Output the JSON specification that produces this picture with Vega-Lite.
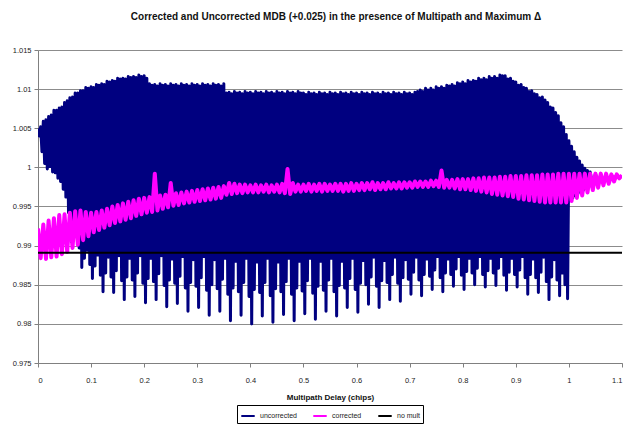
{
"$schema": "https://vega.github.io/schema/vega-lite/v6.json",
"width": 584,
"height": 313,
"autosize": {"type": "none"},
"padding": {"left": 38, "top": 50, "right": 4, "bottom": 63},
"background": "white",
"config": {"font": "Liberation Sans", "view": {"stroke": null}},
"title": {"text": "Corrected and Uncorrected MDB (+0.025) in the presence of Multipath and Maximum Δ", "fontSize": 10, "fontWeight": "bold", "offset": 24, "anchor": "middle", "dx": 6, "color": "#111"},
"datasets": {
"u": [
{"x":0,"y":1.0050},{"x":0.0025,"y":1.0040},{"x":0.005,"y":1.0052},{"x":0.0075,"y":1.0020},{"x":0.01,"y":1.0059},{"x":0.0125,"y":1.0005},{"x":0.015,"y":1.0061},{"x":0.0175,"y":0.9998},{"x":0.02,"y":1.0065},{"x":0.0225,"y":1.0001},{"x":0.025,"y":1.0067},{"x":0.0275,"y":0.9994},{"x":0.03,"y":1.0073},{"x":0.0325,"y":0.9993},{"x":0.035,"y":1.0073},{"x":0.0375,"y":0.9986},{"x":0.04,"y":1.0076},{"x":0.0425,"y":0.9982},{"x":0.045,"y":1.0077},{"x":0.0475,"y":0.9972},{"x":0.05,"y":1.0083},{"x":0.0525,"y":0.9962},{"x":0.055,"y":1.0085},{"x":0.0575,"y":0.9942},{"x":0.06,"y":1.0089},{"x":0.0625,"y":0.9905},{"x":0.065,"y":1.0090},{"x":0.0675,"y":0.9912},{"x":0.07,"y":1.0095},{"x":0.0725,"y":0.9918},{"x":0.075,"y":1.0095},{"x":0.0775,"y":0.9897},{"x":0.08,"y":1.0098},{"x":0.0825,"y":0.9872},{"x":0.085,"y":1.0098},{"x":0.0875,"y":0.9884},{"x":0.09,"y":1.0102},{"x":0.0925,"y":0.9894},{"x":0.095,"y":1.0101},{"x":0.0975,"y":0.9876},
{"x":0.1,"y":1.0103},{"x":0.1025,"y":0.9858},{"x":0.105,"y":1.0102},{"x":0.1075,"y":0.9874},{"x":0.11,"y":1.0106},{"x":0.1125,"y":0.9888},{"x":0.115,"y":1.0105},{"x":0.1175,"y":0.9862},{"x":0.12,"y":1.0107},{"x":0.1225,"y":0.9841},{"x":0.125,"y":1.0106},{"x":0.1275,"y":0.9865},{"x":0.13,"y":1.0110},{"x":0.1325,"y":0.9885},{"x":0.135,"y":1.0109},{"x":0.1375,"y":0.9860},{"x":0.14,"y":1.0111},{"x":0.1425,"y":0.9840},{"x":0.145,"y":1.0110},{"x":0.1475,"y":0.9868},{"x":0.15,"y":1.0114},{"x":0.1525,"y":0.9887},{"x":0.155,"y":1.0113},{"x":0.1575,"y":0.9855},{"x":0.16,"y":1.0114},{"x":0.1625,"y":0.9831},{"x":0.165,"y":1.0113},{"x":0.1675,"y":0.9860},{"x":0.17,"y":1.0116},{"x":0.1725,"y":0.9884},{"x":0.175,"y":1.0115},{"x":0.1775,"y":0.9856},{"x":0.18,"y":1.0116},{"x":0.1825,"y":0.9835},{"x":0.185,"y":1.0115},{"x":0.1875,"y":0.9865},{"x":0.19,"y":1.0118},{"x":0.1925,"y":0.9887},{"x":0.195,"y":1.0116},{"x":0.1975,"y":0.9852},
{"x":0.2,"y":1.0117},{"x":0.2025,"y":0.9827},{"x":0.205,"y":1.0114},{"x":0.2075,"y":0.9858},{"x":0.21,"y":1.0107},{"x":0.2125,"y":0.9884},{"x":0.215,"y":1.0105},{"x":0.2175,"y":0.9854},{"x":0.22,"y":1.0106},{"x":0.2225,"y":0.9831},{"x":0.225,"y":1.0104},{"x":0.2275,"y":0.9864},{"x":0.23,"y":1.0107},{"x":0.2325,"y":0.9887},{"x":0.235,"y":1.0105},{"x":0.2375,"y":0.9849},{"x":0.24,"y":1.0106},{"x":0.2425,"y":0.9822},{"x":0.245,"y":1.0104},{"x":0.2475,"y":0.9856},{"x":0.25,"y":1.0107},{"x":0.2525,"y":0.9883},{"x":0.255,"y":1.0105},{"x":0.2575,"y":0.9852},{"x":0.26,"y":1.0106},{"x":0.2625,"y":0.9826},{"x":0.265,"y":1.0104},{"x":0.2675,"y":0.9861},{"x":0.27,"y":1.0107},{"x":0.2725,"y":0.9886},{"x":0.275,"y":1.0105},{"x":0.2775,"y":0.9846},{"x":0.28,"y":1.0106},{"x":0.2825,"y":0.9816},{"x":0.285,"y":1.0104},{"x":0.2875,"y":0.9853},{"x":0.29,"y":1.0107},{"x":0.2925,"y":0.9882},{"x":0.295,"y":1.0105},{"x":0.2975,"y":0.9848},
{"x":0.3,"y":1.0106},{"x":0.3025,"y":0.9821},{"x":0.305,"y":1.0104},{"x":0.3075,"y":0.9859},{"x":0.31,"y":1.0107},{"x":0.3125,"y":0.9886},{"x":0.315,"y":1.0105},{"x":0.3175,"y":0.9843},{"x":0.32,"y":1.0106},{"x":0.3225,"y":0.9811},{"x":0.325,"y":1.0104},{"x":0.3275,"y":0.9850},{"x":0.33,"y":1.0107},{"x":0.3325,"y":0.9882},{"x":0.335,"y":1.0105},{"x":0.3375,"y":0.9845},{"x":0.34,"y":1.0106},{"x":0.3425,"y":0.9816},{"x":0.345,"y":1.0104},{"x":0.3475,"y":0.9857},{"x":0.35,"y":1.0107},{"x":0.3525,"y":0.9884},{"x":0.355,"y":1.0095},{"x":0.3575,"y":0.9838},{"x":0.36,"y":1.0096},{"x":0.3625,"y":0.9804},{"x":0.365,"y":1.0094},{"x":0.3675,"y":0.9846},{"x":0.37,"y":1.0097},{"x":0.3725,"y":0.9880},{"x":0.375,"y":1.0095},{"x":0.3775,"y":0.9841},{"x":0.38,"y":1.0096},{"x":0.3825,"y":0.9811},{"x":0.385,"y":1.0094},{"x":0.3875,"y":0.9853},{"x":0.39,"y":1.0097},{"x":0.3925,"y":0.9884},{"x":0.395,"y":1.0095},{"x":0.3975,"y":0.9835},
{"x":0.4,"y":1.0096},{"x":0.4025,"y":0.9800},{"x":0.405,"y":1.0094},{"x":0.4075,"y":0.9844},{"x":0.41,"y":1.0097},{"x":0.4125,"y":0.9879},{"x":0.415,"y":1.0095},{"x":0.4175,"y":0.9840},{"x":0.42,"y":1.0096},{"x":0.4225,"y":0.9810},{"x":0.425,"y":1.0094},{"x":0.4275,"y":0.9853},{"x":0.43,"y":1.0097},{"x":0.4325,"y":0.9884},{"x":0.435,"y":1.0095},{"x":0.4375,"y":0.9836},{"x":0.44,"y":1.0096},{"x":0.4425,"y":0.9802},{"x":0.445,"y":1.0094},{"x":0.4475,"y":0.9845},{"x":0.45,"y":1.0097},{"x":0.4525,"y":0.9879},{"x":0.455,"y":1.0095},{"x":0.4575,"y":0.9841},{"x":0.46,"y":1.0096},{"x":0.4625,"y":0.9812},{"x":0.465,"y":1.0094},{"x":0.4675,"y":0.9854},{"x":0.47,"y":1.0097},{"x":0.4725,"y":0.9884},{"x":0.475,"y":1.0095},{"x":0.4775,"y":0.9838},{"x":0.48,"y":1.0096},{"x":0.4825,"y":0.9804},{"x":0.485,"y":1.0094},{"x":0.4875,"y":0.9846},{"x":0.49,"y":1.0097},{"x":0.4925,"y":0.9880},{"x":0.495,"y":1.0095},{"x":0.4975,"y":0.9842},
{"x":0.5,"y":1.0095},{"x":0.5025,"y":0.9813},{"x":0.505,"y":1.0093},{"x":0.5075,"y":0.9855},{"x":0.51,"y":1.0096},{"x":0.5125,"y":0.9884},{"x":0.515,"y":1.0094},{"x":0.5175,"y":0.9839},{"x":0.52,"y":1.0095},{"x":0.5225,"y":0.9806},{"x":0.525,"y":1.0093},{"x":0.5275,"y":0.9848},{"x":0.53,"y":1.0096},{"x":0.5325,"y":0.9880},{"x":0.535,"y":1.0094},{"x":0.5375,"y":0.9843},{"x":0.54,"y":1.0095},{"x":0.5425,"y":0.9816},{"x":0.545,"y":1.0093},{"x":0.5475,"y":0.9856},{"x":0.55,"y":1.0096},{"x":0.5525,"y":0.9884},{"x":0.555,"y":1.0094},{"x":0.5575,"y":0.9841},{"x":0.56,"y":1.0095},{"x":0.5625,"y":0.9810},{"x":0.565,"y":1.0093},{"x":0.5675,"y":0.9849},{"x":0.57,"y":1.0096},{"x":0.5725,"y":0.9880},{"x":0.575,"y":1.0094},{"x":0.5775,"y":0.9846},{"x":0.58,"y":1.0095},{"x":0.5825,"y":0.9821},{"x":0.585,"y":1.0093},{"x":0.5875,"y":0.9858},{"x":0.59,"y":1.0096},{"x":0.5925,"y":0.9884},{"x":0.595,"y":1.0094},{"x":0.5975,"y":0.9844},
{"x":0.6,"y":1.0095},{"x":0.6025,"y":0.9815},{"x":0.605,"y":1.0093},{"x":0.6075,"y":0.9852},{"x":0.61,"y":1.0096},{"x":0.6125,"y":0.9881},{"x":0.615,"y":1.0094},{"x":0.6175,"y":0.9850},{"x":0.62,"y":1.0095},{"x":0.6225,"y":0.9825},{"x":0.625,"y":1.0093},{"x":0.6275,"y":0.9860},{"x":0.63,"y":1.0096},{"x":0.6325,"y":0.9885},{"x":0.635,"y":1.0094},{"x":0.6375,"y":0.9848},{"x":0.64,"y":1.0095},{"x":0.6425,"y":0.9821},{"x":0.645,"y":1.0093},{"x":0.6475,"y":0.9855},{"x":0.65,"y":1.0096},{"x":0.6525,"y":0.9881},{"x":0.655,"y":1.0094},{"x":0.6575,"y":0.9853},{"x":0.66,"y":1.0095},{"x":0.6625,"y":0.9831},{"x":0.665,"y":1.0093},{"x":0.6675,"y":0.9863},{"x":0.67,"y":1.0096},{"x":0.6725,"y":0.9885},{"x":0.675,"y":1.0094},{"x":0.6775,"y":0.9852},{"x":0.68,"y":1.0095},{"x":0.6825,"y":0.9829},{"x":0.685,"y":1.0093},{"x":0.6875,"y":0.9859},{"x":0.69,"y":1.0096},{"x":0.6925,"y":0.9882},{"x":0.695,"y":1.0094},{"x":0.6975,"y":0.9857},
{"x":0.7,"y":1.0095},{"x":0.7025,"y":0.9838},{"x":0.705,"y":1.0093},{"x":0.7075,"y":0.9866},{"x":0.71,"y":1.0096},{"x":0.7125,"y":0.9885},{"x":0.715,"y":1.0097},{"x":0.7175,"y":0.9856},{"x":0.72,"y":1.0099},{"x":0.7225,"y":0.9836},{"x":0.725,"y":1.0097},{"x":0.7275,"y":0.9863},{"x":0.73,"y":1.0101},{"x":0.7325,"y":0.9883},{"x":0.735,"y":1.0099},{"x":0.7375,"y":0.9861},{"x":0.74,"y":1.0101},{"x":0.7425,"y":0.9844},{"x":0.745,"y":1.0099},{"x":0.7475,"y":0.9869},{"x":0.75,"y":1.0103},{"x":0.7525,"y":0.9886},{"x":0.755,"y":1.0101},{"x":0.7575,"y":0.9859},{"x":0.76,"y":1.0103},{"x":0.7625,"y":0.9841},{"x":0.765,"y":1.0101},{"x":0.7675,"y":0.9865},{"x":0.77,"y":1.0105},{"x":0.7725,"y":0.9883},{"x":0.775,"y":1.0104},{"x":0.7775,"y":0.9863},{"x":0.78,"y":1.0106},{"x":0.7825,"y":0.9848},{"x":0.785,"y":1.0104},{"x":0.7875,"y":0.9870},{"x":0.79,"y":1.0108},{"x":0.7925,"y":0.9886},{"x":0.795,"y":1.0107},{"x":0.7975,"y":0.9862},
{"x":0.8,"y":1.0109},{"x":0.8025,"y":0.9844},{"x":0.805,"y":1.0107},{"x":0.8075,"y":0.9867},{"x":0.81,"y":1.0111},{"x":0.8125,"y":0.9884},{"x":0.815,"y":1.0109},{"x":0.8175,"y":0.9865},{"x":0.82,"y":1.0111},{"x":0.8225,"y":0.9850},{"x":0.825,"y":1.0110},{"x":0.8275,"y":0.9871},{"x":0.83,"y":1.0114},{"x":0.8325,"y":0.9886},{"x":0.835,"y":1.0112},{"x":0.8375,"y":0.9863},{"x":0.84,"y":1.0114},{"x":0.8425,"y":0.9847},{"x":0.845,"y":1.0112},{"x":0.8475,"y":0.9868},{"x":0.85,"y":1.0116},{"x":0.8525,"y":0.9884},{"x":0.855,"y":1.0114},{"x":0.8575,"y":0.9865},{"x":0.86,"y":1.0116},{"x":0.8625,"y":0.9849},{"x":0.865,"y":1.0114},{"x":0.8675,"y":0.9871},{"x":0.87,"y":1.0118},{"x":0.8725,"y":0.9886},{"x":0.875,"y":1.0117},{"x":0.8775,"y":0.9862},{"x":0.88,"y":1.0117},{"x":0.8825,"y":0.9843},{"x":0.885,"y":1.0113},{"x":0.8875,"y":0.9866},{"x":0.89,"y":1.0114},{"x":0.8925,"y":0.9884},{"x":0.895,"y":1.0110},{"x":0.8975,"y":0.9863},
{"x":0.9,"y":1.0109},{"x":0.9025,"y":0.9847},{"x":0.905,"y":1.0105},{"x":0.9075,"y":0.9869},{"x":0.91,"y":1.0106},{"x":0.9125,"y":0.9886},{"x":0.915,"y":1.0102},{"x":0.9175,"y":0.9859},{"x":0.92,"y":1.0101},{"x":0.9225,"y":0.9838},{"x":0.925,"y":1.0097},{"x":0.9275,"y":0.9863},{"x":0.93,"y":1.0098},{"x":0.9325,"y":0.9883},{"x":0.935,"y":1.0094},{"x":0.9375,"y":0.9859},{"x":0.94,"y":1.0093},{"x":0.9425,"y":0.9840},{"x":0.945,"y":1.0089},{"x":0.9475,"y":0.9866},{"x":0.95,"y":1.0090},{"x":0.9525,"y":0.9885},{"x":0.955,"y":1.0086},{"x":0.9575,"y":0.9854},{"x":0.96,"y":1.0083},{"x":0.9625,"y":0.9831},{"x":0.965,"y":1.0077},{"x":0.9675,"y":0.9860},{"x":0.97,"y":1.0076},{"x":0.9725,"y":0.9882},{"x":0.975,"y":1.0070},{"x":0.9775,"y":0.9856},{"x":0.98,"y":1.0066},{"x":0.9825,"y":0.9836},{"x":0.985,"y":1.0057},{"x":0.9875,"y":0.9865},{"x":0.99,"y":1.0052},{"x":0.9925,"y":0.9850},{"x":0.995,"y":1.0042},{"x":0.9975,"y":0.9832},
{"x":1.0,"y":1.0034},{"x":1.0025,"y":0.9958},{"x":1.005,"y":1.0027},{"x":1.0075,"y":0.9961},{"x":1.01,"y":1.0020},{"x":1.0125,"y":0.9964},{"x":1.015,"y":1.0013},{"x":1.0175,"y":0.9967},{"x":1.02,"y":1.0008},{"x":1.0225,"y":0.9969},{"x":1.025,"y":1.0003},{"x":1.0275,"y":0.9971},{"x":1.03,"y":0.9999},{"x":1.0325,"y":0.9973},{"x":1.035,"y":0.9996},{"x":1.0375,"y":0.9975},{"x":1.04,"y":0.9994},{"x":1.045,"y":0.9977},{"x":1.05,"y":0.9992},{"x":1.055,"y":0.9979},{"x":1.06,"y":0.9991},{"x":1.065,"y":0.9981},{"x":1.07,"y":0.9990},{"x":1.075,"y":0.9983},{"x":1.08,"y":0.9990},{"x":1.085,"y":0.9985},{"x":1.09,"y":0.9990}
],
"c": [
{"x":0,"y":0.9922},{"x":0.005,"y":0.9884},{"x":0.01,"y":0.9927},{"x":0.015,"y":0.9883},{"x":0.02,"y":0.9932},{"x":0.025,"y":0.9885},{"x":0.03,"y":0.9935},{"x":0.035,"y":0.9886},{"x":0.04,"y":0.9939},{"x":0.045,"y":0.9889},{"x":0.05,"y":0.9940},{"x":0.055,"y":0.9892},{"x":0.06,"y":0.9942},{"x":0.065,"y":0.9897},{"x":0.07,"y":0.9944},{"x":0.075,"y":0.9901},{"x":0.08,"y":0.9945},{"x":0.085,"y":0.9907},{"x":0.09,"y":0.9943},{"x":0.095,"y":0.9912},
{"x":0.1,"y":0.9942},{"x":0.105,"y":0.9917},{"x":0.11,"y":0.9943},{"x":0.115,"y":0.9920},{"x":0.12,"y":0.9945},{"x":0.125,"y":0.9923},{"x":0.13,"y":0.9947},{"x":0.135,"y":0.9926},{"x":0.14,"y":0.9950},{"x":0.145,"y":0.9929},{"x":0.15,"y":0.9952},{"x":0.155,"y":0.9931},{"x":0.16,"y":0.9954},{"x":0.165,"y":0.9933},{"x":0.17,"y":0.9956},{"x":0.175,"y":0.9935},{"x":0.18,"y":0.9958},{"x":0.185,"y":0.9938},{"x":0.19,"y":0.9960},{"x":0.195,"y":0.9940},
{"x":0.2,"y":0.9961},{"x":0.205,"y":0.9942},{"x":0.21,"y":0.9962},{"x":0.215,"y":0.9943},{"x":0.22,"y":0.9992},{"x":0.225,"y":0.9945},{"x":0.23,"y":0.9964},{"x":0.235,"y":0.9947},{"x":0.24,"y":0.9965},{"x":0.245,"y":0.9949},{"x":0.25,"y":0.9980},{"x":0.255,"y":0.9951},{"x":0.26,"y":0.9967},{"x":0.265,"y":0.9952},{"x":0.27,"y":0.9968},{"x":0.275,"y":0.9954},{"x":0.28,"y":0.9969},{"x":0.285,"y":0.9955},{"x":0.29,"y":0.9970},{"x":0.295,"y":0.9956},
{"x":0.3,"y":0.9971},{"x":0.305,"y":0.9957},{"x":0.31,"y":0.9972},{"x":0.315,"y":0.9958},{"x":0.32,"y":0.9973},{"x":0.325,"y":0.9959},{"x":0.33,"y":0.9974},{"x":0.335,"y":0.9960},{"x":0.34,"y":0.9975},{"x":0.345,"y":0.9961},{"x":0.35,"y":0.9976},{"x":0.355,"y":0.9965},{"x":0.36,"y":0.9980},{"x":0.365,"y":0.9966},{"x":0.37,"y":0.9979},{"x":0.375,"y":0.9967},{"x":0.38,"y":0.9978},{"x":0.385,"y":0.9967},{"x":0.39,"y":0.9978},{"x":0.395,"y":0.9968},
{"x":0.4,"y":0.9977},{"x":0.405,"y":0.9968},{"x":0.41,"y":0.9978},{"x":0.415,"y":0.9968},{"x":0.42,"y":0.9977},{"x":0.425,"y":0.9969},{"x":0.43,"y":0.9978},{"x":0.435,"y":0.9968},{"x":0.44,"y":0.9977},{"x":0.445,"y":0.9969},{"x":0.45,"y":0.9978},{"x":0.455,"y":0.9968},{"x":0.46,"y":0.9979},{"x":0.465,"y":0.9967},{"x":0.47,"y":0.9998},{"x":0.475,"y":0.9966},{"x":0.48,"y":0.9980},{"x":0.485,"y":0.9969},{"x":0.49,"y":0.9978},{"x":0.495,"y":0.9969},
{"x":0.5,"y":0.9978},{"x":0.505,"y":0.9970},{"x":0.51,"y":0.9979},{"x":0.515,"y":0.9969},{"x":0.52,"y":0.9978},{"x":0.525,"y":0.9970},{"x":0.53,"y":0.9979},{"x":0.535,"y":0.9969},{"x":0.54,"y":0.9979},{"x":0.545,"y":0.9970},{"x":0.55,"y":0.9978},{"x":0.555,"y":0.9970},{"x":0.56,"y":0.9979},{"x":0.565,"y":0.9970},{"x":0.57,"y":0.9979},{"x":0.575,"y":0.9969},{"x":0.58,"y":0.9979},{"x":0.585,"y":0.9970},{"x":0.59,"y":0.9980},{"x":0.595,"y":0.9970},
{"x":0.6,"y":0.9979},{"x":0.605,"y":0.9971},{"x":0.61,"y":0.9980},{"x":0.615,"y":0.9971},{"x":0.62,"y":0.9980},{"x":0.625,"y":0.9972},{"x":0.63,"y":0.9981},{"x":0.635,"y":0.9971},{"x":0.64,"y":0.9980},{"x":0.645,"y":0.9972},{"x":0.65,"y":0.9980},{"x":0.655,"y":0.9972},{"x":0.66,"y":0.9981},{"x":0.665,"y":0.9973},{"x":0.67,"y":0.9980},{"x":0.675,"y":0.9973},{"x":0.68,"y":0.9981},{"x":0.685,"y":0.9973},{"x":0.69,"y":0.9981},{"x":0.695,"y":0.9974},
{"x":0.7,"y":0.9981},{"x":0.705,"y":0.9974},{"x":0.71,"y":0.9982},{"x":0.715,"y":0.9975},{"x":0.72,"y":0.9982},{"x":0.725,"y":0.9975},{"x":0.73,"y":0.9982},{"x":0.735,"y":0.9975},{"x":0.74,"y":0.9983},{"x":0.745,"y":0.9976},{"x":0.75,"y":0.9983},{"x":0.755,"y":0.9975},{"x":0.76,"y":0.9996},{"x":0.765,"y":0.9974},{"x":0.77,"y":0.9984},{"x":0.775,"y":0.9974},{"x":0.78,"y":0.9984},{"x":0.785,"y":0.9973},{"x":0.79,"y":0.9985},{"x":0.795,"y":0.9972},
{"x":0.8,"y":0.9985},{"x":0.805,"y":0.9972},{"x":0.81,"y":0.9985},{"x":0.815,"y":0.9971},{"x":0.82,"y":0.9986},{"x":0.825,"y":0.9970},{"x":0.83,"y":0.9986},{"x":0.835,"y":0.9969},{"x":0.84,"y":0.9987},{"x":0.845,"y":0.9968},{"x":0.85,"y":0.9987},{"x":0.855,"y":0.9966},{"x":0.86,"y":0.9987},{"x":0.865,"y":0.9965},{"x":0.87,"y":0.9988},{"x":0.875,"y":0.9964},{"x":0.88,"y":0.9988},{"x":0.885,"y":0.9963},{"x":0.89,"y":0.9989},{"x":0.895,"y":0.9962},
{"x":0.9,"y":0.9989},{"x":0.905,"y":0.9960},{"x":0.91,"y":0.9989},{"x":0.915,"y":0.9959},{"x":0.92,"y":0.9990},{"x":0.925,"y":0.9958},{"x":0.93,"y":0.9990},{"x":0.935,"y":0.9957},{"x":0.94,"y":0.9990},{"x":0.945,"y":0.9956},{"x":0.95,"y":0.9991},{"x":0.955,"y":0.9955},{"x":0.96,"y":0.9991},{"x":0.965,"y":0.9955},{"x":0.97,"y":0.9991},{"x":0.975,"y":0.9955},{"x":0.98,"y":0.9992},{"x":0.985,"y":0.9955},{"x":0.99,"y":0.9992},{"x":0.995,"y":0.9955},
{"x":1.0,"y":0.9992},{"x":1.005,"y":0.9957},{"x":1.01,"y":0.9992},{"x":1.015,"y":0.9961},{"x":1.02,"y":0.9992},{"x":1.025,"y":0.9964},{"x":1.03,"y":0.9992},{"x":1.035,"y":0.9968},{"x":1.04,"y":0.9992},{"x":1.045,"y":0.9971},{"x":1.05,"y":0.9992},{"x":1.055,"y":0.9974},{"x":1.06,"y":0.9992},{"x":1.065,"y":0.9977},{"x":1.07,"y":0.9992},{"x":1.075,"y":0.9979},{"x":1.08,"y":0.9991},{"x":1.085,"y":0.9982},{"x":1.09,"y":0.9991},{"x":1.095,"y":0.9986},{"x":1.1,"y":0.9990}
],
"t": [{"x":0,"y":0.9891},{"x":1.1,"y":0.9891}]
},
"encoding": {
"x": {"field": "x", "type": "quantitative", "scale": {"domain": [0, 1.1], "nice": false, "zero": false},
 "axis": {"title": "Multipath Delay (chips)", "values": [0,0.1,0.2,0.3,0.4,0.5,0.6,0.7,0.8,0.9,1,1.1], "format": "~g", "grid": false, "tickSize": 4, "tickColor": "#808080", "domainColor": "#808080", "labelFontSize": 7.5, "labelColor": "#222", "labelPadding": 9, "titleFontSize": 8, "titleFontWeight": "bold", "titleColor": "#111", "titlePadding": 10}},
"y": {"field": "y", "type": "quantitative", "scale": {"domain": [0.975, 1.015], "nice": false, "zero": false},
 "axis": {"title": null, "values": [0.975,0.98,0.985,0.99,0.995,1,1.005,1.01,1.015], "format": "~g", "grid": true, "gridColor": "#8c8c8c", "gridWidth": 1, "tickSize": 4, "tickColor": "#808080", "domainColor": "#808080", "labelFontSize": 7.5, "labelColor": "#222", "labelPadding": 3}}
},
"layer": [
{"data": {"name": "u"}, "mark": {"type": "line", "strokeWidth": 3, "strokeJoin": "round", "clip": true},
 "encoding": {"color": {"datum": "uncorrected", "type": "nominal", "scale": {"domain": ["uncorrected", "corrected", "no mult"], "range": ["#000080", "#FF00FF", "#000000"]},
 "legend": {"orient": "none", "legendX": 199, "legendY": 355, "direction": "horizontal", "title": null, "strokeColor": "#000", "padding": 3, "labelFontSize": 7, "labelColor": "#222", "symbolType": "stroke", "symbolStrokeWidth": 2, "symbolSize": 180, "columnPadding": 12, "fillColor": "white"}}}},
{"data": {"name": "c"}, "mark": {"type": "line", "strokeWidth": 4, "strokeJoin": "round", "clip": true},
 "encoding": {"color": {"datum": "corrected", "type": "nominal"}}},
{"data": {"name": "t"}, "mark": {"type": "line", "strokeWidth": 2, "clip": true},
 "encoding": {"color": {"datum": "no mult", "type": "nominal"}}}
]
}
